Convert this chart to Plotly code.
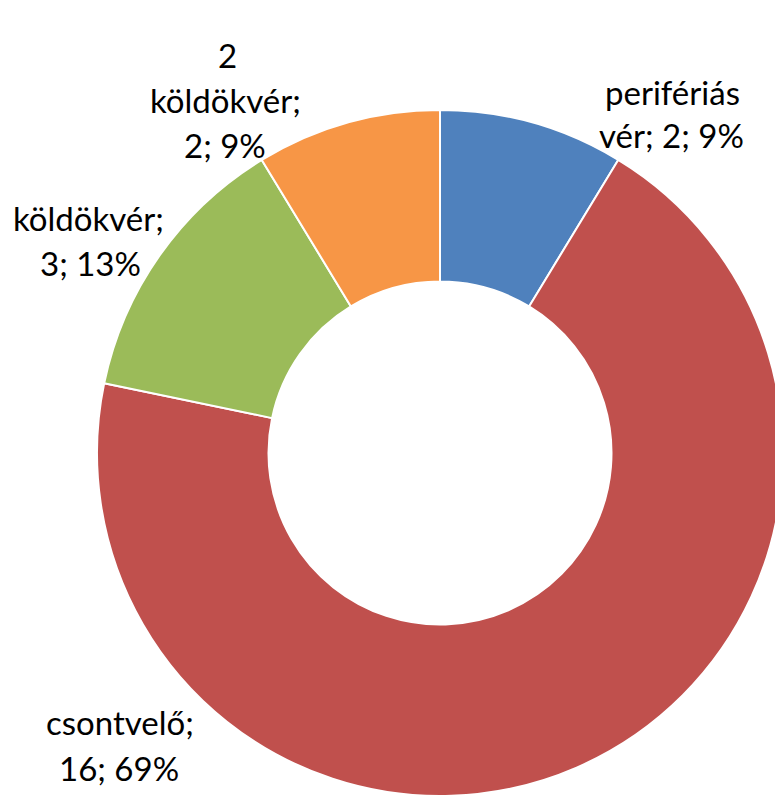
import plotly.graph_objects as go

categories = ["perifériás vér", "csontvelő", "köldökvér", "2 köldökvér"]
values = [2, 16, 3, 2]
percent_labels = ["9%", "69%", "13%", "9%"]
colors = ["#4F81BD", "#C0504D", "#9BBB59", "#F79646"]

# page is offset by the browser's default 8px body margin
OFF = 8
W, H = 783 - OFF, 798 - OFF

# label line splits (text) and their pixel centers in page coordinates (layout)
label_lines = [
    ["perifériás", f"vér; {values[0]}; {percent_labels[0]}"],
    ["csontvelő;", f"{values[1]}; {percent_labels[1]}"],
    ["köldökvér;", f"{values[2]}; {percent_labels[2]}"],
    ["2", "köldökvér;", f"{values[3]}; {percent_labels[3]}"],
]
label_pos = [
    [(672, 92), (671, 135)],
    [(120, 722), (119, 768)],
    [(88, 218), (90, 263)],
    [(227, 55), (225, 100), (225, 145)],
]

fig = go.Figure(go.Pie(
    labels=categories,
    values=values,
    sort=False,
    direction="clockwise",
    rotation=0,
    hole=0.5,
    marker=dict(colors=colors, line=dict(color="white", width=2)),
    textinfo="none",
    showlegend=False,
    domain=dict(x=[(97 - OFF) / W, 1.0], y=[0.0, (H - (108 - OFF)) / H]),
))

annotations = []
for lines, poss in zip(label_lines, label_pos):
    for txt, (px, py) in zip(lines, poss):
        annotations.append(dict(
            text=txt, x=(px - OFF) / W, y=1 - (py - OFF) / H, xref="paper", yref="paper",
            xanchor="center", yanchor="middle", showarrow=False,
            font=dict(family="Lato, Open Sans, sans-serif", size=33, color="#000000"),
        ))

fig.update_layout(
    width=W, height=H,
    margin=dict(l=0, r=0, t=0, b=0),
    paper_bgcolor="white",
    plot_bgcolor="white",
    annotations=annotations,
)

fig.write_html("out.html")
